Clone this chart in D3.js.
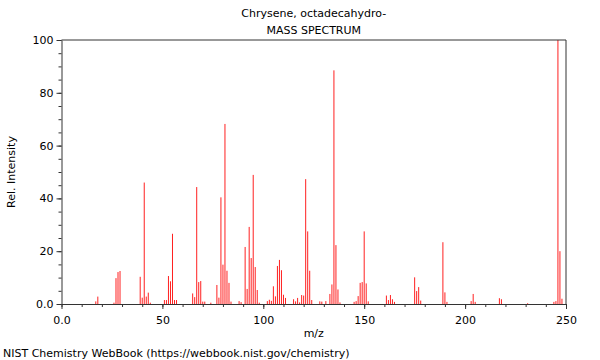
<!DOCTYPE html>
<html>
<head>
<meta charset="utf-8">
<script src="https://cdn.jsdelivr.net/npm/d3@7"></script>
<style>
  body { margin: 0; background: #fff; }
  svg { font-family: "DejaVu Sans", sans-serif; }
</style>
</head>
<body>
<svg width="600" height="360"></svg>
<script>
// peak positions (m/z) and relative intensities
var mzValues = [17, 18, 26, 27, 28, 29, 39, 40, 41, 42, 43, 44, 51, 52, 53, 54, 55, 56, 57,
  65, 66, 67, 68, 69, 70, 71, 74, 77, 78, 79, 80, 81, 82, 83, 84, 88, 89,
  91, 92, 93, 94, 95, 96, 97, 98, 102, 103, 104, 105, 106, 107, 108, 109, 110, 111,
  115, 116, 117, 118, 119, 120, 121, 122, 123, 124, 128, 129, 131, 133, 134, 135, 136, 137, 138,
  145, 146, 147, 148, 149, 150, 151, 152, 161, 162, 163, 164, 165, 175, 176, 177, 178,
  189, 190, 191, 203, 204, 205, 217, 218, 231, 244, 245, 246, 247, 248];
var intensities = [1, 2.8, 0.5, 9.8, 12.1, 12.5, 10.3, 2.4, 46, 2.8, 4.3, 0.5, 1.5, 1.5, 10.6, 8.6, 26.6, 1.5, 1.5,
  4, 2.6, 44.3, 8.3, 8.7, 0.9, 0.9, 0.5, 7.2, 2.4, 40.4, 14.9, 68.2, 12.6, 8, 0.9, 1.1, 0.7,
  21.6, 5.7, 29.2, 17.4, 48.9, 14, 5.3, 0.5, 1.1, 1.6, 1.2, 6.7, 2.9, 14.4, 16.7, 12.8, 3.5, 2.3,
  1.8, 1, 2.3, 0.6, 3.4, 3.2, 47.3, 27.5, 12.6, 1.5, 1, 0.9, 1.1, 3.8, 7.4, 88.5, 22.3, 5.5, 0.6,
  0.8, 1.1, 3, 8, 8.3, 27.5, 7.8, 1, 3.2, 1.5, 3.4, 1.8, 0.8, 10.1, 4.9, 6.4, 1.3,
  23.4, 4.4, 0.8, 1.1, 3.8, 0.8, 2.2, 1.8, 0.3, 0.8, 1.1, 100, 20, 2];
var xTicks = [0, 50, 100, 150, 200, 250];
var yTicks = [0, 20, 40, 60, 80, 100];

var svg = d3.select("svg");
var plotL = 61.5, plotR = 566, plotT = 40, plotB = 304;

var xScale = d3.scaleLinear().domain([0, 250]).range([plotL, plotR]);
var yScale = d3.scaleLinear().domain([0, 100]).range([plotB, plotT]);

var peaks = mzValues.map(function(m, i) { return {mz: m, val: intensities[i]}; });

// spectrum lines
svg.append("g").selectAll("line").data(peaks).enter().append("line")
  .attr("x1", function(d) { return xScale(d.mz); })
  .attr("x2", function(d) { return xScale(d.mz); })
  .attr("y1", yScale(0))
  .attr("y2", function(d) { return yScale(d.val); })
  .attr("stroke", "#ff2020")
  .attr("stroke-width", 1);

// frame (top and right)
svg.append("path")
  .attr("d", "M" + plotL + "," + plotT + "H" + plotR + "V" + plotB)
  .attr("fill", "none").attr("stroke", "#333").attr("stroke-width", 1);

// x axis, minor ticks then major
svg.append("g").attr("transform", "translate(0," + plotB + ")")
  .call(d3.axisBottom(xScale).tickValues(d3.range(0, 251, 10)).tickSize(3).tickFormat(""))
  .call(function(g) { g.select(".domain").remove(); g.selectAll("line").attr("stroke", "#333"); });
var xAxis = svg.append("g").attr("transform", "translate(0," + plotB + ")")
  .call(d3.axisBottom(xScale).tickValues(xTicks).tickSize(5).tickSizeOuter(0)
    .tickFormat(function(d) { return d === 0 ? "0.0" : d; }));
xAxis.selectAll("text").attr("font-size", "11px").attr("fill", "#000").attr("dy", "1.05em")
  .attr("font-family", "DejaVu Sans");
xAxis.selectAll("line, path").attr("stroke", "#333");

// y axis
svg.append("g").attr("transform", "translate(" + plotL + ",0)")
  .call(d3.axisLeft(yScale).tickValues(d3.range(0, 101, 5)).tickSize(3).tickFormat(""))
  .call(function(g) { g.select(".domain").remove(); g.selectAll("line").attr("stroke", "#333"); });
var yAxis = svg.append("g").attr("transform", "translate(" + plotL + ",0)")
  .call(d3.axisLeft(yScale).tickValues(yTicks).tickSize(5).tickSizeOuter(0)
    .tickFormat(function(d) { return d === 0 ? "0.0" : d; }));
yAxis.selectAll("text").attr("font-size", "11px").attr("fill", "#000").attr("font-family", "DejaVu Sans");
yAxis.selectAll("line, path").attr("stroke", "#333");

// titles
var mid = (plotL + plotR) / 2;
svg.append("text").attr("x", mid).attr("y", 17).attr("text-anchor", "middle")
  .attr("font-size", "11px").text("Chrysene, octadecahydro-");
svg.append("text").attr("x", mid).attr("y", 34).attr("text-anchor", "middle")
  .attr("font-size", "11px").text("MASS SPECTRUM");
svg.append("text").attr("x", mid).attr("y", 337).attr("text-anchor", "middle")
  .attr("font-size", "11px").text("m/z");
svg.append("text").attr("transform", "translate(15," + ((plotT + plotB) / 2) + ") rotate(-90)")
  .attr("text-anchor", "middle").attr("font-size", "11px").text("Rel. Intensity");
svg.append("text").attr("x", 3).attr("y", 357)
  .attr("font-size", "11px").text("NIST Chemistry WebBook (https://webbook.nist.gov/chemistry)");
</script>
</body>
</html>
